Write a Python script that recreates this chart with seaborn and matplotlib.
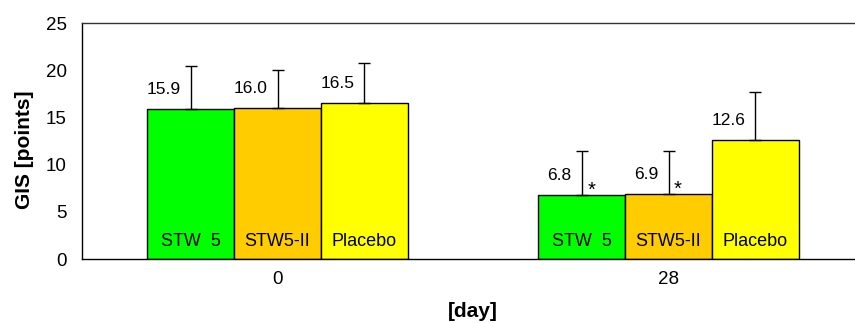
import matplotlib
matplotlib.use("Agg")
import matplotlib.pyplot as plt
import seaborn as sns
import pandas as pd
import numpy as np
from matplotlib.transforms import offset_copy

days = ["0", "28"]
groups = ["STW 5", "STW5-II", "Placebo"]
stw5 = [15.9, 6.8]
stw5ii = [16.0, 6.9]
placebo = [16.5, 12.6]
sd_stw5 = [4.5, 4.6]
sd_stw5ii = [4.0, 4.5]
sd_placebo = [4.3, 5.1]
value_labels = {"STW 5": ["15.9", "6.8"], "STW5-II": ["16.0", "6.9"], "Placebo": ["16.5", "12.6"]}
significant = {"STW 5": [False, True], "STW5-II": [False, True], "Placebo": [False, False]}
bar_text = {"STW 5": "STW  5", "STW5-II": "STW5-II", "Placebo": "Placebo"}
colors = ["#00FF00", "#FFCC00", "#FFFF00"]

rows = []
for g, vals, sds in zip(groups, [stw5, stw5ii, placebo], [sd_stw5, sd_stw5ii, sd_placebo]):
    for d, v, s in zip(days, vals, sds):
        rows.append({"day": d, "group": g, "GIS": v, "sd": s})
df = pd.DataFrame(rows)

sns.set_style("white")
plt.rcParams["font.family"] = ["Liberation Sans", "DejaVu Sans"]
plt.rcParams["text.color"] = "black"
plt.rcParams["axes.labelcolor"] = "black"
plt.rcParams["xtick.color"] = "black"
plt.rcParams["ytick.color"] = "black"

fig = plt.figure(figsize=(8.55, 3.23), dpi=100)
ax = fig.add_axes([82 / 855, 1 - 259 / 323, 782 / 855, 236 / 323])

sns.barplot(data=df, x="day", y="GIS", hue="group", hue_order=groups, order=days,
            palette=colors, errorbar=None, width=0.667, gap=0, dodge=True,
            edgecolor="black", linewidth=1.0, saturation=1, legend=False, ax=ax)

patches = [p for p in ax.patches if p.get_height() > 0]
k = 0
for g in groups:
    sub = df[df.group == g].set_index("day").loc[days]
    for i, d in enumerate(days):
        p = patches[k]; k += 1
        xc = p.get_x() + p.get_width() / 2
        h = p.get_height()
        s = sub.loc[d, "sd"]
        ax.errorbar(xc, h, yerr=[[0], [s]], fmt="none", ecolor="black",
                    elinewidth=1.0, capsize=4.3, capthick=1.0, zorder=3)
        tr = offset_copy(ax.transData, fig=fig, x=-10, y=15, units="dots")
        ax.text(xc, h, value_labels[g][i], transform=tr, ha="right", va="baseline",
                fontsize=12.5, color="black")
        if significant[g][i]:
            tr2 = offset_copy(ax.transData, fig=fig, x=9.5, y=-1, units="dots")
            ax.text(xc, h, "*", transform=tr2, ha="center", va="baseline",
                    fontsize=14.5, color="black")
        tr3 = offset_copy(ax.transData, fig=fig, x=0, y=12.5, units="dots")
        ax.text(xc, 0, bar_text[g], transform=tr3, ha="center", va="baseline",
                fontsize=13, color="black")

ax.set_xlim(-0.5, 1.5)
ax.set_ylim(0, 25)
ax.set_yticks([0, 5, 10, 15, 20, 25])
ax.set_xticks([-0.5, 0.5, 1.5])
ax.set_xticklabels([])
ax.set_xticks([0, 1], minor=True)
ax.set_xticklabels(days, minor=True)
ax.tick_params(axis="x", which="major", direction="out", length=5, width=1.0, color="black")
ax.tick_params(axis="x", which="minor", length=0, pad=9, labelsize=13.5)
ax.tick_params(axis="y", direction="out", length=5, width=1.0, color="black", labelsize=13.5, pad=6)

for side in ["left", "bottom", "top"]:
    ax.spines[side].set_visible(True)
    ax.spines[side].set_color("black")
    ax.spines[side].set_linewidth(1.0)
ax.spines["top"].set_color("#333333")
ax.spines["right"].set_visible(False)

ax.set_xlabel("[day]", fontsize=15, fontweight="bold")
ax.set_ylabel("GIS [points]", fontsize=15, fontweight="bold")
ax.xaxis.set_label_coords(391 / 782, -43 / 236)
ax.yaxis.set_label_coords(-48 / 782, 109 / 236)

fig.savefig("out.png", dpi=100)
